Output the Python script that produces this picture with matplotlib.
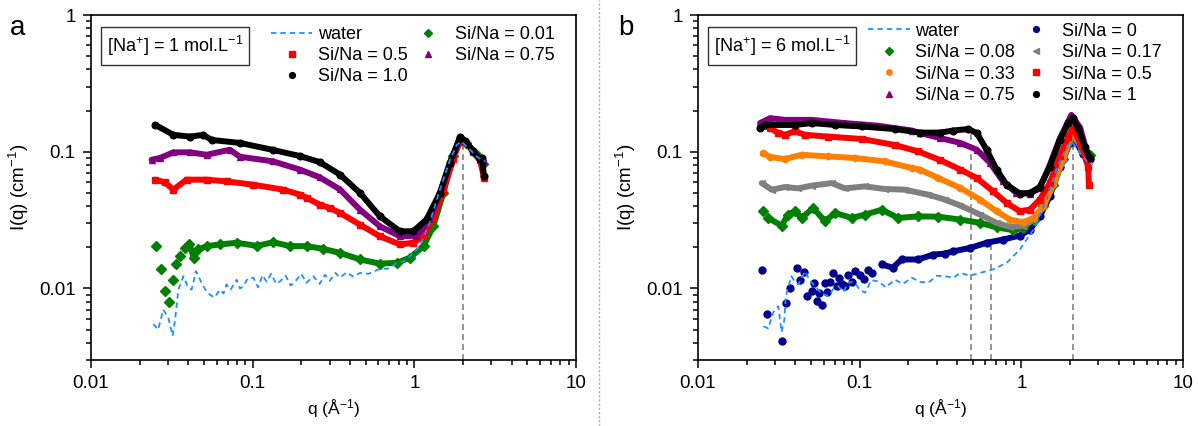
import numpy as np
import matplotlib
matplotlib.use("Agg")
import matplotlib.pyplot as plt
from matplotlib.lines import Line2D
from matplotlib.patches import Rectangle
from matplotlib.ticker import FuncFormatter, NullFormatter, LogLocator

plt.rcParams['font.family'] = ['Liberation Sans', 'DejaVu Sans']
plt.rcParams['mathtext.fontset'] = 'custom'
plt.rcParams['mathtext.rm'] = 'Liberation Sans'
plt.rcParams['mathtext.it'] = 'Liberation Sans:italic'

# ---- panel a : [Na+] = 1 mol/L ----
q_a_water = [0.0243, 0.026, 0.028, 0.0301, 0.032, 0.0331, 0.0347, 0.0373, 0.0395, 0.0419, 0.0446, 0.0483,
             0.051, 0.0544, 0.058, 0.0628, 0.066, 0.069, 0.073, 0.0796, 0.0835, 0.0875, 0.093, 0.101,
             0.108, 0.115, 0.122, 0.13, 0.14, 0.148, 0.16, 0.172, 0.187, 0.2, 0.215, 0.237, 0.26, 0.28,
             0.30, 0.325, 0.347, 0.38, 0.42, 0.461, 0.52, 0.612, 0.7, 0.778, 0.86, 0.94, 1.08, 1.24,
             1.44, 1.66, 1.83, 1.95, 2.21, 2.44, 2.62, 2.75]
I_a_water = [0.0055, 0.0050, 0.0070, 0.0061, 0.0045, 0.0059, 0.0098, 0.0123, 0.0105, 0.0098, 0.0134, 0.0110,
             0.0098, 0.0090, 0.0086, 0.0098, 0.0092, 0.0107, 0.0098, 0.0116, 0.0100, 0.0104, 0.0118, 0.0120,
             0.0102, 0.0125, 0.0112, 0.0128, 0.0108, 0.0113, 0.0124, 0.0105, 0.0116, 0.0128, 0.0110, 0.0123,
             0.0108, 0.0126, 0.0114, 0.0130, 0.0120, 0.0131, 0.0122, 0.0130, 0.0128, 0.0139, 0.0140, 0.0154,
             0.0158, 0.0172, 0.0204, 0.030, 0.0528, 0.087, 0.112, 0.119, 0.1035, 0.092, 0.087, 0.085]

q_a_001 = [0.0252, 0.027, 0.0287, 0.0305, 0.032, 0.0336, 0.0355, 0.0381, 0.0405, 0.0433, 0.0461, 0.052,
           0.0628, 0.0796, 0.106, 0.134, 0.170, 0.216, 0.273, 0.347, 0.461, 0.612, 0.778, 0.94, 1.14,
           1.31, 1.51, 1.74, 1.92, 2.1, 2.44, 2.67]
I_a_001 = [0.0204, 0.0139, 0.0096, 0.0079, 0.0116, 0.0152, 0.0174, 0.0198, 0.0213, 0.0168, 0.0193, 0.0204,
           0.0210, 0.0216, 0.0205, 0.0218, 0.0204, 0.0204, 0.0195, 0.0182, 0.0163, 0.0152, 0.0154, 0.0168, 0.0204,
           0.0285, 0.050, 0.0924, 0.119, 0.116, 0.095, 0.082]

q_a_05 = [0.0249, 0.0287, 0.0323, 0.039, 0.052, 0.069, 0.101, 0.155, 0.196, 0.216, 0.26, 0.30, 0.347,
          0.461, 0.612, 0.814, 0.984, 1.14, 1.31, 1.51, 1.74, 1.92, 2.06, 2.32, 2.55, 2.7]
I_a_05 = [0.0625, 0.0597, 0.0528, 0.0625, 0.0625, 0.0607, 0.0574, 0.0528, 0.0486, 0.046, 0.041, 0.0388, 0.0357,
          0.0293, 0.0241, 0.0210, 0.0216, 0.0241, 0.033, 0.052, 0.088, 0.122, 0.118, 0.100, 0.087, 0.064]

q_a_075 = [0.0237, 0.0267, 0.0323, 0.041, 0.0519, 0.0723, 0.0834, 0.134, 0.196, 0.26, 0.347, 0.461,
           0.612, 0.814, 1.03, 1.24, 1.44, 1.66, 1.92, 2.06, 2.32, 2.55, 2.7]
I_a_075 = [0.0874, 0.090, 0.0989, 0.099, 0.095, 0.1035, 0.092, 0.085, 0.074, 0.065, 0.053, 0.0377,
           0.0285, 0.0241, 0.0243, 0.032, 0.050, 0.083, 0.127, 0.120, 0.101, 0.088, 0.085]

q_a_10 = [0.025, 0.0323, 0.041, 0.0495, 0.0557, 0.0834, 0.134, 0.196, 0.26, 0.347, 0.461, 0.612,
          0.814, 0.984, 1.19, 1.44, 1.66, 1.92, 2.06, 2.32, 2.55, 2.62, 2.7]
I_a_10 = [0.157, 0.133, 0.129, 0.133, 0.122, 0.116, 0.103, 0.093, 0.084, 0.068, 0.050, 0.0337,
          0.0262, 0.0262, 0.032, 0.050, 0.083, 0.128, 0.120, 0.1005, 0.088, 0.090, 0.066]

# ---- panel b : [Na+] = 6 mol/L ----
q_b_water = [0.0254, 0.0272, 0.0292, 0.0314, 0.0329, 0.0342, 0.0349, 0.0378, 0.0398, 0.0417, 0.0459,
             0.049, 0.053, 0.058, 0.064, 0.069, 0.0738, 0.079, 0.086, 0.0935, 0.1, 0.108, 0.118, 0.13,
             0.145, 0.165, 0.185, 0.21, 0.235, 0.265, 0.3, 0.336, 0.38, 0.42, 0.48, 0.555, 0.67, 0.811,
             0.98, 1.19, 1.43, 1.65, 1.91, 2.04, 2.31, 2.59, 2.75]
I_b_water = [0.0053, 0.0051, 0.0067, 0.0074, 0.0048, 0.0059, 0.0088, 0.0123, 0.0112, 0.0107, 0.0134,
             0.0115, 0.0104, 0.0092, 0.0088, 0.0100, 0.0104, 0.0094, 0.0112, 0.0110, 0.0098, 0.0093, 0.0115,
             0.0113, 0.0102, 0.0116, 0.0108, 0.0120, 0.0112, 0.0110, 0.0124, 0.0123, 0.0120, 0.0130, 0.0124,
             0.0130, 0.0138, 0.0154, 0.0193, 0.027, 0.0447, 0.074, 0.109, 0.119, 0.098, 0.083, 0.080]

q_b_0 = [0.0248, 0.0266, 0.0332, 0.0349, 0.0371, 0.0408, 0.0427, 0.045, 0.047, 0.0505, 0.052, 0.0542,
         0.056, 0.0582, 0.061, 0.063, 0.066, 0.0687, 0.072, 0.075, 0.078, 0.081, 0.085, 0.09, 0.0935,
         0.1, 0.107, 0.113, 0.119, 0.137, 0.16, 0.182, 0.23, 0.285, 0.336, 0.38, 0.481, 0.61, 0.77,
         0.98, 1.13, 1.30, 1.50, 1.73, 2.0, 2.12, 2.4, 2.65]
I_b_0 = [0.0136, 0.0065, 0.0041, 0.0078, 0.0100, 0.0142, 0.0116, 0.0132, 0.0088, 0.0096, 0.0110, 0.0081,
         0.0092, 0.0076, 0.0110, 0.0094, 0.0112, 0.0130, 0.0105, 0.0120, 0.0108, 0.0104, 0.0126, 0.0112,
         0.0134, 0.0125, 0.0118, 0.0136, 0.0130, 0.0150, 0.0142, 0.0163, 0.0163, 0.0177, 0.0180, 0.0187,
         0.0198, 0.0216, 0.0228, 0.0244, 0.027, 0.0337, 0.0472, 0.078, 0.116, 0.125, 0.097, 0.088]

q_b_008 = [0.0254, 0.0272, 0.0329, 0.0361, 0.0398, 0.0438, 0.0516, 0.061, 0.0704, 0.0893, 0.108, 0.137,
           0.173, 0.23, 0.306, 0.42, 0.555, 0.703, 0.891, 1.03, 1.19, 1.37, 1.58, 1.82, 2.04, 2.15, 2.4, 2.65]
I_b_008 = [0.0367, 0.0328, 0.0288, 0.0347, 0.0367, 0.0328, 0.0388, 0.031, 0.0357, 0.0328, 0.0347, 0.0377,
           0.0328, 0.0337, 0.0335, 0.0319, 0.0302, 0.028, 0.0267, 0.0277, 0.0319, 0.0399, 0.057, 0.088, 0.126, 0.128,
           0.102, 0.095]

q_b_017 = [0.0248, 0.0286, 0.0345, 0.0417, 0.0505, 0.0671, 0.081, 0.108, 0.143, 0.19, 0.265, 0.336,
           0.42, 0.555, 0.703, 0.851, 1.03, 1.19, 1.37, 1.58, 1.82, 2.04, 2.1, 2.36, 2.59]
I_b_017 = [0.059, 0.0528, 0.0552, 0.054, 0.0565, 0.059, 0.054, 0.0558, 0.0534, 0.0528, 0.0486, 0.0447,
           0.0404, 0.0347, 0.0302, 0.0282, 0.0288, 0.0319, 0.0399, 0.058, 0.088, 0.129, 0.132, 0.106, 0.085]

q_b_033 = [0.0254, 0.0279, 0.0345, 0.0438, 0.064, 0.0935, 0.143, 0.21, 0.236, 0.306, 0.42, 0.555,
           0.703, 0.851, 1.03, 1.19, 1.37, 1.58, 1.82, 2.02, 2.1, 2.36, 2.59]
I_b_033 = [0.0978, 0.0914, 0.0885, 0.095, 0.0924, 0.090, 0.085, 0.076, 0.074, 0.0643, 0.0543, 0.0447,
           0.0367, 0.0319, 0.0305, 0.0328, 0.0399, 0.059, 0.0924, 0.137, 0.14, 0.109, 0.085]

q_b_05 = [0.0248, 0.0279, 0.0314, 0.0345, 0.0398, 0.0459, 0.064, 0.103, 0.165, 0.23, 0.314, 0.42,
          0.53, 0.67, 0.811, 0.98, 1.13, 1.30, 1.50, 1.73, 1.95, 2.08, 2.31, 2.59, 2.62]
I_b_05 = [0.157, 0.149, 0.137, 0.133, 0.141, 0.133, 0.129, 0.124, 0.112, 0.1005, 0.087, 0.074,
          0.0643, 0.0513, 0.0422, 0.0367, 0.0377, 0.0447, 0.059, 0.0924, 0.129, 0.149, 0.116, 0.078, 0.0574]

q_b_075 = [0.0242, 0.0279, 0.0345, 0.0505, 0.081, 0.130, 0.21, 0.236, 0.314, 0.42, 0.53, 0.64,
           0.77, 0.93, 1.13, 1.30, 1.50, 1.73, 2.04, 2.31, 2.59]
I_b_075 = [0.162, 0.176, 0.171, 0.171, 0.162, 0.155, 0.143, 0.137, 0.126, 0.116, 0.1035, 0.083,
           0.0607, 0.050, 0.0494, 0.054, 0.080, 0.125, 0.186, 0.15, 0.092]

q_b_1 = [0.0242, 0.0259, 0.0398, 0.0505, 0.0704, 0.103, 0.165, 0.236, 0.314, 0.38, 0.47, 0.53, 0.61,
         0.703, 0.811, 0.98, 1.13, 1.30, 1.50, 1.73, 1.95, 2.08, 2.25, 2.47, 2.65]
I_b_1 = [0.149, 0.157, 0.157, 0.162, 0.157, 0.153, 0.1465, 0.138, 0.138, 0.143, 0.1465, 0.137, 0.1035,
         0.074, 0.0574, 0.0494, 0.050, 0.0552, 0.078, 0.122, 0.162, 0.176, 0.149, 0.109, 0.090]

# guide lines: (q position, top intensity)
guides_a = [(2.0, 0.117)]
guides_b = [(0.485, 0.145), (0.645, 0.021), (2.1, 0.174)]

WATER = '#1e90ff'


def draw(ax, q, I, color, marker, band_from=0.0, ms=4.8):
    q = np.asarray(q)
    I = np.asarray(I)
    m = q >= band_from
    ax.plot(q[m], I[m], color=color, lw=4.3, solid_joinstyle='round', solid_capstyle='round')
    ax.plot(q, I, ls='none', marker=marker, ms=ms, color=color, mec=color)


def draw_water(ax, q, I):
    ax.plot(q, I, color=WATER, lw=1.3, dashes=(3.0, 2.2))


def style_axes(ax):
    ax.set_xscale('log')
    ax.set_yscale('log')
    ax.set_xlim(0.01, 10)
    ax.set_ylim(0.003, 1)
    fmt = FuncFormatter(lambda v, _: f'{v:g}')
    ax.xaxis.set_major_formatter(fmt)
    ax.yaxis.set_major_formatter(fmt)
    ax.xaxis.set_minor_formatter(NullFormatter())
    ax.yaxis.set_minor_formatter(NullFormatter())
    ax.yaxis.set_minor_locator(LogLocator(subs=np.arange(2, 10)))
    ax.xaxis.set_minor_locator(LogLocator(subs=np.arange(2, 10)))
    ax.tick_params(which='both', direction='out', top=False, right=False, width=1.1, labelsize=13.5)
    ax.tick_params(which='major', length=6, pad=5)
    ax.tick_params(which='minor', length=3.5)
    for s in ax.spines.values():
        s.set_linewidth(1.2)
    ax.set_xlabel('q (Å$^{-1}$)', fontsize=12.5)
    ax.set_ylabel('I(q) (cm$^{-1}$)', fontsize=13.5)
    ax.xaxis.set_label_coords(0.5, -0.14)
    ax.xaxis.label.set_va('center')
    ax.yaxis.set_label_coords(-0.148, 0.5)
    ax.yaxis.label.set_va('center')


def guides(ax, items):
    for qv, top in items:
        ax.plot([qv, qv], [0.003, top], color='#808080', lw=1.2, dashes=(3.5, 2.5), zorder=1)


def conc_box(ax, text):
    ax.add_patch(Rectangle((0.02, 0.855), 0.306, 0.11, transform=ax.transAxes,
                           fill=False, lw=1.0, ec='#333333'))
    ax.text(0.173, 0.91, text, transform=ax.transAxes, ha='center', va='center', fontsize=13)


def mk(color, marker):
    return Line2D([], [], ls='none', marker=marker, color=color, mec=color, ms=4.2)


fig = plt.figure(figsize=(11.98, 4.26), dpi=100)
ax_a = fig.add_axes([91 / 1198, 66 / 426, 485 / 1198, 345 / 426])
ax_b = fig.add_axes([698 / 1198, 66 / 426, 485 / 1198, 345 / 426])

# panel a
guides(ax_a, guides_a)
draw(ax_a, q_a_001, I_a_001, '#008000', 'D', band_from=0.037, ms=5)
draw(ax_a, q_a_05, I_a_05, '#ff0000', 's')
draw(ax_a, q_a_075, I_a_075, '#800080', '^')
draw(ax_a, q_a_10, I_a_10, '#000000', 'o')
draw_water(ax_a, q_a_water, I_a_water)
style_axes(ax_a)
conc_box(ax_a, '[Na$^{+}$] = 1 mol.L$^{-1}$')
h_water = Line2D([], [], color=WATER, lw=1.3, dashes=(3.0, 2.2))
ax_a.legend([h_water, mk('#ff0000', 's'), mk('#000000', 'o'), mk('#008000', 'D'), mk('#800080', '^')],
            ['water', 'Si/Na = 0.5', 'Si/Na = 1.0', 'Si/Na = 0.01', 'Si/Na = 0.75'],
            ncol=2, loc='upper left', bbox_to_anchor=(0.371, 0.968), frameon=False,
            fontsize=13, handlelength=2.3, handletextpad=0.3, columnspacing=0.0,
            labelspacing=0.22, borderpad=0, borderaxespad=0)

# panel b
guides(ax_b, guides_b)
draw(ax_b, q_b_0, I_b_0, '#00008b', 'o', band_from=0.125, ms=5)
draw(ax_b, q_b_008, I_b_008, '#008000', 'D', band_from=0.027)
draw(ax_b, q_b_017, I_b_017, '#808080', '<')
draw(ax_b, q_b_033, I_b_033, '#ff8000', 'h')
draw(ax_b, q_b_05, I_b_05, '#ff0000', 's')
draw(ax_b, q_b_075, I_b_075, '#800080', '^')
draw(ax_b, q_b_1, I_b_1, '#000000', 'o')
draw_water(ax_b, q_b_water, I_b_water)
style_axes(ax_b)
conc_box(ax_b, '[Na$^{+}$] = 6 mol.L$^{-1}$')
ax_b.legend([h_water, mk('#008000', 'D'), mk('#ff8000', 'h'), mk('#800080', '^'),
             mk('#00008b', 'o'), mk('#808080', '<'), mk('#ff0000', 's'), mk('#000000', 'o')],
            ['water', 'Si/Na = 0.08', 'Si/Na = 0.33', 'Si/Na = 0.75',
             'Si/Na = 0', 'Si/Na = 0.17', 'Si/Na = 0.5', 'Si/Na = 1'],
            ncol=2, loc='upper left', bbox_to_anchor=(0.351, 0.978), frameon=False,
            fontsize=13, handlelength=2.3, handletextpad=0.3, columnspacing=0.0,
            labelspacing=0.25, borderpad=0, borderaxespad=0)

fig.text(10 / 1198, 1 - 28 / 426, 'a', fontsize=20, va='center', ha='left')
fig.text(618 / 1198, 1 - 28 / 426, 'b', fontsize=20, va='center', ha='left')
fig.add_artist(Line2D([0.5, 0.5], [0, 1], transform=fig.transFigure, color='#aaaaaa',
                      lw=1.0, dashes=(1.5, 1.5)))

fig.savefig('out.png', dpi=100)
